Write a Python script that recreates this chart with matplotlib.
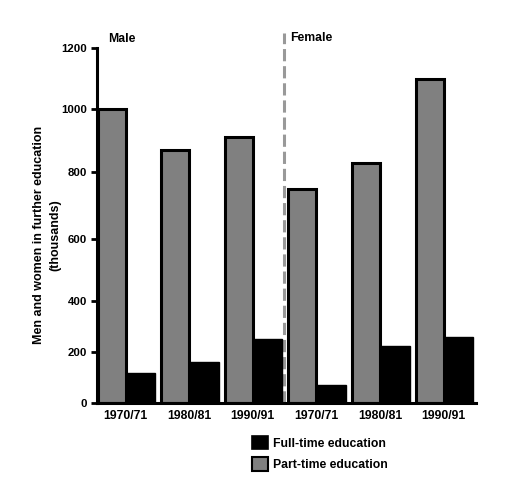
import numpy as np
import matplotlib
matplotlib.use("Agg")
import matplotlib.pyplot as plt
from matplotlib.patches import Patch

# data (thousands)
groups = ["1970/71", "1980/81", "1990/91", "1970/71", "1980/81", "1990/91"]
part_time = [1000, 870, 910, 750, 830, 1100]
full_time = [120, 160, 250, 70, 225, 260]

# the original axis is not evenly spaced: tick value -> pixel row in the source
tick_vals = [0, 200, 400, 600, 800, 1000, 1200]
tick_rows = [403.3, 352.3, 300.7, 239.3, 172.3, 109.0, 48.3]

plt.rcParams['font.family'] = ['Liberation Sans', 'DejaVu Sans']

fig = plt.figure(figsize=(5.15, 4.99), dpi=100, facecolor='white')
ax = fig.add_axes([96.7/515, 1-403.3/499, (476-96.7)/515, (403.3-48.3)/499])

rows_neg = [-r for r in tick_rows]
def fwd(v):
    return np.interp(v, tick_vals, rows_neg)
def inv(p):
    return np.interp(p, rows_neg, tick_vals)
ax.set_yscale('function', functions=(fwd, inv))

gw = 0.44   # part-time bar width
bw = 0.465  # full-time bar width
x = np.arange(len(groups))
ax.bar(x, part_time, width=gw, align='edge', color='#808080',
       edgecolor='black', linewidth=2.2, zorder=2)
ax.bar(x + gw, full_time, width=bw, align='edge', color='black',
       edgecolor='black', linewidth=1.0, zorder=2)

ax.set_xlim(-0.015, 5.95)
ax.set_ylim(0, 1200)
ax.set_yticks(tick_vals)
ax.set_yticklabels([str(v) for v in tick_vals], fontsize=8.2, fontweight='bold')
ax.set_xticks(x + 0.44)
ax.set_xticklabels(groups, fontsize=8.8, fontweight='bold')
ax.tick_params(axis='x', length=0, pad=5)
ax.tick_params(axis='y', length=4, width=2, pad=3)

for s in ['top', 'right']:
    ax.spines[s].set_visible(False)
for s in ['left', 'bottom']:
    ax.spines[s].set_linewidth(2.2)

# divider between male and female
ax.axvline(2.925, ymin=0, ymax=1.043, color='#999999', linestyle=(0, (4, 1.6)),
           linewidth=2.2, clip_on=False, zorder=1)

fig.text(122/515, 1-39/499, "Male", fontsize=8.8, fontweight='bold',
         ha='center', va='center')
fig.text(290/515, 1-38/499, "Female", fontsize=8.8, fontweight='bold',
         ha='left', va='center')

fig.text(47/515, 1-235/499, "Men and women in further education\n(thousands)",
         rotation=90, fontsize=9, fontweight='bold', ha='center', va='center',
         multialignment='center', linespacing=1.45)

handles = [Patch(facecolor='black', edgecolor='black', linewidth=1.2),
           Patch(facecolor='#808080', edgecolor='black', linewidth=1.5)]
fig.legend(handles, ["Full-time education", "Part-time education"],
           loc='upper left', bbox_to_anchor=(252/515, 1-436/499),
           frameon=False, prop={'size': 8.8, 'weight': 'bold'},
           handlelength=1.3, handleheight=1.3, handletextpad=0.45,
           labelspacing=0.62, borderpad=0, borderaxespad=0)

fig.savefig("out.png", dpi=100, facecolor='white')
